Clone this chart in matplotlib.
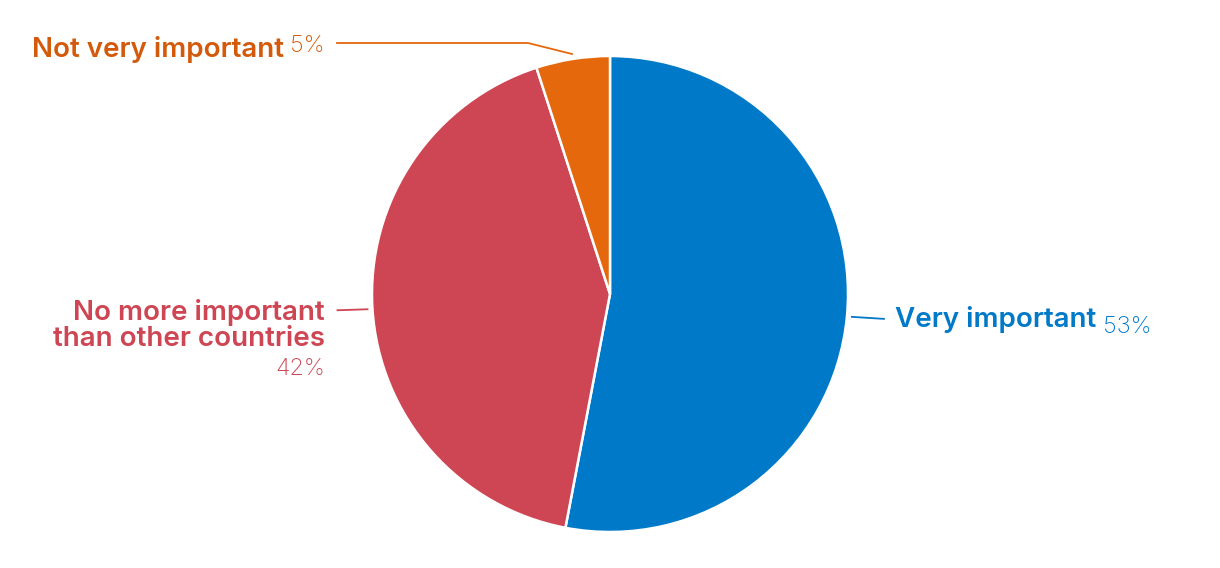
import matplotlib
matplotlib.use("Agg")
import matplotlib.pyplot as plt
import numpy as np

# Survey shares (percent)
labels = ["Very important", "No more important\nthan other countries", "Not very important"]
values = [53, 42, 5]
wedge_colors = ["#0079C8", "#CE4553", "#E5680C"]
text_colors = ["#0079C8", "#CE4553", "#D35A0A"]

W, H = 1220, 568
plt.rcParams["font.family"] = ["Inter", "DejaVu Sans"]

fig = plt.figure(figsize=(W / 100, H / 100), dpi=100)
ax = fig.add_axes([0, 0, 1, 1])

cx, cy, r = 610, H - 294, 238
wedges, _ = ax.pie(values, colors=wedge_colors, startangle=90, counterclock=False,
                   center=(cx, cy), radius=r, frame=True,
                   wedgeprops=dict(edgecolor="white", linewidth=1.8))
ax.set_xlim(0, W)
ax.set_ylim(0, H)
ax.set_aspect("equal")
ax.axis("off")

fs = 20
fs_pct = 17


def label(x, y, name, pct, color, ha):
    if ha == "left":
        t = ax.text(x, y, name, color=color, fontsize=fs, fontweight="semibold",
                    ha="left", va="baseline")
        ax.annotate(pct, xy=(1, 0), xycoords=t, xytext=(7, 0), textcoords="offset pixels",
                    color=color, fontsize=fs_pct, fontweight="light", ha="left", va="baseline")
    else:
        p = ax.text(x, y, pct, color=color, fontsize=fs_pct, fontweight="light",
                    ha="right", va="baseline")
        ax.annotate(name, xy=(0, 0), xycoords=p, xytext=(-7, 0), textcoords="offset pixels",
                    color=color, fontsize=fs, fontweight="semibold", ha="right", va="baseline")


# Very important
a = np.deg2rad((wedges[0].theta1 + wedges[0].theta2) / 2)
sx, sy = cx + (r + 5) * np.cos(a), cy + (r + 5) * np.sin(a)
ax.plot([sx, sx + 32], [sy, sy - 2], color=wedge_colors[0], lw=1.3)
label(895, H - 327, labels[0], f"{values[0]}%", text_colors[0], "left")

# No more important
a = np.deg2rad((wedges[1].theta1 + wedges[1].theta2) / 2)
sx, sy = cx + (r + 5) * np.cos(a), cy + (r + 5) * np.sin(a)
ax.plot([sx, sx - 30], [sy, sy - 1], color=wedge_colors[1], lw=1.3)
ax.text(325, H - 346, labels[1], color=text_colors[1], fontsize=fs, fontweight="semibold",
        ha="right", va="baseline", multialignment="right", linespacing=1.0)
ax.text(325, H - 375, f"{values[1]}%", color=text_colors[1], fontsize=fs_pct,
        fontweight="light", ha="right", va="baseline")

# Not very important
a = np.deg2rad((wedges[2].theta1 + wedges[2].theta2) / 2)
sx, sy = cx + (r + 5) * np.cos(a), cy + (r + 5) * np.sin(a)
ax.plot([sx, sx - 44, 337], [sy, H - 43, H - 43], color=wedge_colors[2], lw=1.3)
label(325, H - 52, labels[2], f"{values[2]}%", text_colors[2], "right")

fig.savefig("out.png", dpi=100)
